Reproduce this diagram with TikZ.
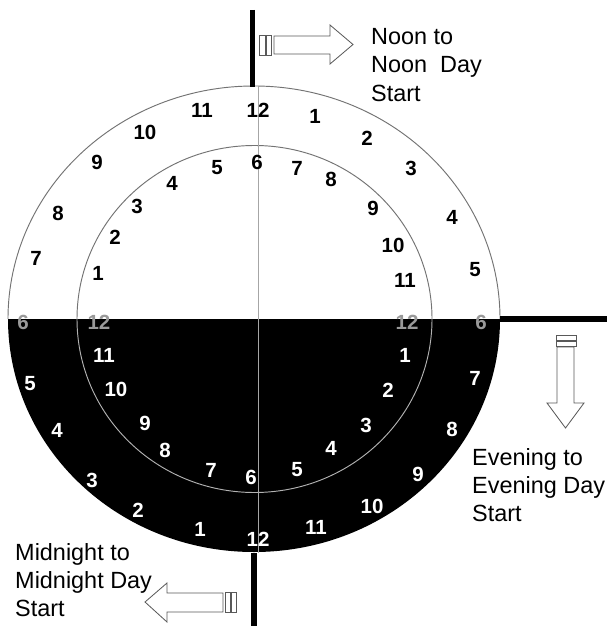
\documentclass[tikz,border=0pt]{standalone}
\usepackage{fontspec}
\setmainfont{Liberation Sans}
\begin{document}
\begin{tikzpicture}[
    x=0.03cm, y=-0.03cm,
    num/.style={font=\fontsize{17.5}{17.5}\selectfont\bfseries, inner sep=0pt},
    dark/.style={num, text=black},
    light/.style={num, text=white},
    edge/.style={num, text=black!40},
    note/.style={font=\fontsize{20}{24.2}\selectfont, align=left, inner sep=0pt, anchor=north west},
    bar/.style={line width=4.3pt, black},
    blockarrow/.style={draw=black!65, fill=white, line width=0.7pt}
  ]
  \useasboundingbox (0,0) rectangle (607,626);
  \fill[white] (0,0) rectangle (607,626);

  % dial halves
  \fill[black] (8,319) arc[start angle=180, end angle=0, x radius=246, y radius=233] -- cycle;
  \draw[black!55, line width=0.8pt] (8,319) arc[start angle=180, end angle=360, x radius=246, y radius=233];
  \draw[black!55, line width=0.8pt] (77,319) arc[start angle=180, end angle=360, x radius=177.5, y radius=173.5];
  \draw[black!30, line width=0.8pt] (77,319) arc[start angle=180, end angle=0, x radius=177.5, y radius=173.5];
  \draw[black!35, line width=0.6pt] (258,87) -- (258,553);

  % day start bars
  \draw[bar] (252.5,10) -- (252.5,87);
  \draw[bar] (500,319) -- (607,319);
  \draw[bar] (254,553) -- (254,626);

  % outer ring, day half
  \foreach \n/\px/\py in {12/258/110, 1/315/116, 2/367/138, 3/411/168, 4/452/217, 5/475/270,
                          11/202/110, 10/145/132, 9/97/162, 8/58/213, 7/36/258}
    \node[dark] (ot\n) at (\px,\py) {\n};
  \node[edge] (otl6) at (23,322) {6};
  \node[edge] (otr6) at (481,322) {6};

  % inner ring, day half
  \foreach \n/\px/\py in {6/257/162, 7/297/168, 8/331/179, 9/373/208, 10/393/245, 11/405/280,
                          5/217/168, 4/172/183, 3/137/206, 2/115/237, 1/98/273}
    \node[dark] (it\n) at (\px,\py) {\n};
  \node[edge] (itl12) at (99,322) {12};
  \node[edge] (itr12) at (407,322) {12};

  % outer ring, night half
  \foreach \n/\px/\py in {7/475/378, 8/452/429, 9/418/474, 10/372/506, 11/316/527, 12/258/539,
                          1/200/529, 2/138/510, 3/92/480, 4/57/430, 5/30/384}
    \node[light] (ob\n) at (\px,\py) {\n};

  % inner ring, night half
  \foreach \n/\px/\py in {11/104/355, 10/116/389, 9/145/423, 8/165/450, 7/211/470, 6/251/477,
                          5/297/470, 4/331/448, 3/366/425, 2/388/390, 1/405/355}
    \node[light] (ib\n) at (\px,\py) {\n};

  % arrows
  \draw[blockarrow] (259,35) rectangle (265,55);
  \draw[blockarrow] (266,35) rectangle (271,55);
  \draw[blockarrow] (274,36) -- (330,36) -- (330,25) -- (353,44.5) -- (330,64) -- (330,54) -- (274,54) -- cycle;

  \draw[blockarrow] (556,335) rectangle (576,340);
  \draw[blockarrow] (556,341) rectangle (576,346);
  \draw[blockarrow] (557,347) -- (557,403) -- (547,403) -- (565.5,428) -- (584,403) -- (574,403) -- (574,347) -- cycle;

  \draw[blockarrow] (231,592) rectangle (236,612);
  \draw[blockarrow] (225,592) rectangle (230,612);
  \draw[blockarrow] (223,593) -- (167,593) -- (167,583) -- (145,602) -- (167,622) -- (167,612) -- (223,612) -- cycle;

  % labels
  \node[note] (noon) at (371,28) {Noon to\\Noon\ \ Day\\Start};
  \node[note] (evening) at (472,448) {Evening to\\Evening Day\\Start};
  \node[note] (midnight) at (15,543) {Midnight to\\Midnight Day\\Start};
\end{tikzpicture}
\end{document}
